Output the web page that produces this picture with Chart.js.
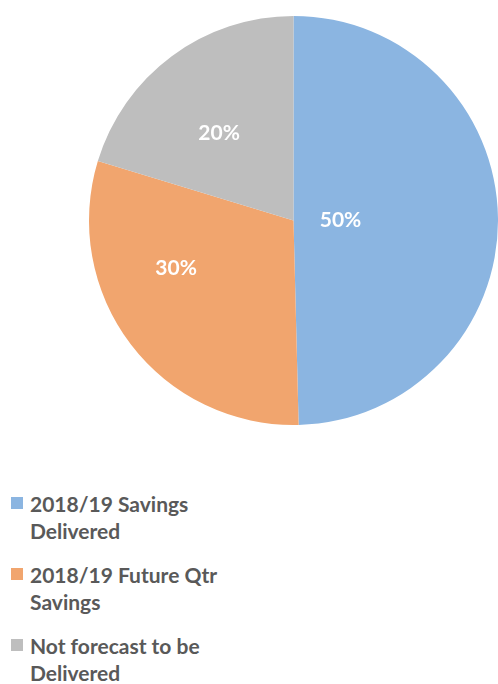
<!DOCTYPE html>
<html>
<head>
<meta charset="utf-8">
<script src="https://cdn.jsdelivr.net/npm/chart.js@4/dist/chart.umd.min.js"></script>
<style>
  html, body { margin: 0; padding: 0; background: #fff; }
  body { width: 498px; height: 684px; position: relative; overflow: hidden; font-family: Lato, "Open Sans", sans-serif; }
  #chart-wrap { position: absolute; left: 0; top: 0; width: 498px; height: 441px; }
  #legend { position: absolute; left: 0; top: 490px; margin: 0; padding: 0; list-style: none; }
  #legend li { position: relative; padding-left: 30px; width: 230px; font-weight: 700; font-size: 21px; line-height: 27px; color: #595959; margin-bottom: 17px; }
  #legend .box { position: absolute; left: 11px; top: 7px; width: 12px; height: 12px; }
</style>
</head>
<body>
<div id="chart-wrap"><canvas id="pie"></canvas></div>
<ul id="legend"></ul>
<script>
const labels = ["2018/19 Savings Delivered", "2018/19 Future Qtr Savings", "Not forecast to be Delivered"];
const values = [49.6, 30.1, 20.3];
const colors = ["#8BB5E1", "#F1A56E", "#BEBEBE"];

// where Excel put the % labels: angle shift from slice middle (deg) and fraction of radius
const labelSpots = [
    { shift: 0.7, frac: 0.23 },
    { shift: 15, frac: 0.62 },
    { shift: -4, frac: 0.56 },
];

const pctLabels = {
    id: "pctLabels",
    afterDatasetsDraw(chart) {
        const ctx = chart.ctx;
        const meta = chart.getDatasetMeta(0);
        const total = values.reduce((a, b) => a + b, 0);
        ctx.save();
        ctx.font = "bold 21px Lato, 'Open Sans', sans-serif";
        ctx.fillStyle = "#ffffff";
        ctx.textAlign = "center";
        ctx.textBaseline = "middle";
        meta.data.forEach((arc, i) => {
            const p = arc.getProps(["x", "y", "startAngle", "endAngle", "outerRadius"], true);
            const mid = (p.startAngle + p.endAngle) / 2 + labelSpots[i].shift * Math.PI / 180;
            const r = p.outerRadius * labelSpots[i].frac;
            const txt = Math.round(values[i] / total * 100) + "%";
            ctx.fillText(txt, p.x + Math.cos(mid) * r, p.y + Math.sin(mid) * r);
        });
        ctx.restore();
    },
};

new Chart(document.getElementById("pie"), {
    type: "pie",
    data: { labels, datasets: [{ data: values, backgroundColor: colors, borderWidth: 0 }] },
    options: {
        responsive: true,
        maintainAspectRatio: false,
        animation: false,
        layout: { padding: { left: 89, right: 0, top: 16, bottom: 16 } },
        plugins: { legend: { display: false }, tooltip: { enabled: false } },
    },
    plugins: [pctLabels],
});

const legend = document.getElementById("legend");
labels.forEach((l, i) => {
    const li = document.createElement("li");
    const box = document.createElement("span");
    box.className = "box";
    box.style.background = colors[i];
    li.appendChild(box);
    li.appendChild(document.createTextNode(l));
    legend.appendChild(li);
});
</script>
</body>
</html>
